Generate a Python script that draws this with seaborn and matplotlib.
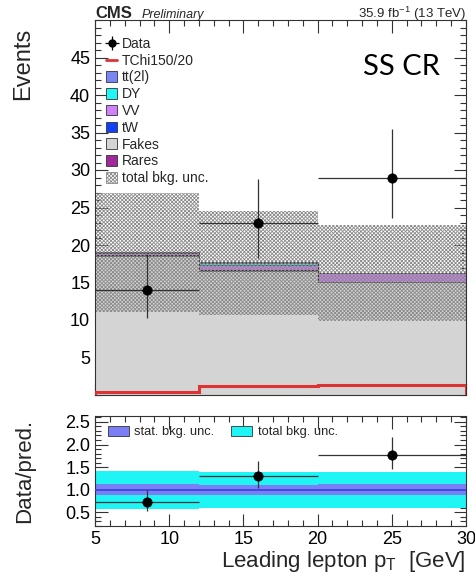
import numpy as np
import pandas as pd
import matplotlib
matplotlib.use("Agg")
import matplotlib.pyplot as plt
from matplotlib.patches import Patch
from matplotlib.lines import Line2D
from matplotlib.ticker import MultipleLocator, FormatStrFormatter
import seaborn as sns

# ---------------- data ----------------
bin_edges = [5, 12, 20, 30]
bin_centers_data = [8.5, 16, 25]
fakes = [18.6, 16.6, 15.1]
rares = [0.05, 0.03, 0.03]
tw = [0.0, 0.02, 0.0]
vv = [0.3, 0.7, 1.1]
dy = [0.05, 0.3, 0.05]
tt = [0.0, 0.05, 0.02]
signal = [0.4, 1.2, 1.3]
data_counts = [14, 23, 29]
data_err_up = [4.83, 5.86, 6.44]
data_err_dn = [3.7, 4.77, 5.37]
unc_total_lo = [11.05, 10.65, 9.85]
unc_total_hi = [26.9, 24.6, 22.7]
stat_rel = [0.12, 0.11, 0.12]

proc_names = ["Fakes", "Rares", "tW", "VV", "DY", "tt(2l)"]
proc_values = [fakes, rares, tw, vv, dy, tt]
proc_colors = {"tt(2l)": "#7b86f5", "DY": "#22f5f5", "VV": "#d080f8",
               "tW": "#1040f8", "Fakes": "#d4d4d4", "Rares": "#a0289c"}

# ---------------- style ----------------
sns.set_theme(style="ticks")
plt.rcParams['font.family'] = ['Liberation Sans', 'DejaVu Sans']
plt.rcParams['hatch.linewidth'] = 0.6
plt.rcParams['mathtext.fontset'] = 'custom'
plt.rcParams['mathtext.rm'] = 'Liberation Sans'
plt.rcParams['mathtext.it'] = 'Liberation Sans'

fig = plt.figure(figsize=(4.75, 5.74), dpi=100)
W, H = 475, 574
ax = fig.add_axes([95 / W, 1 - 395 / H, 371 / W, 375 / H])
rax = fig.add_axes([95 / W, 1 - 526 / H, 371 / W, 110 / H])

edges = np.array(bin_edges, dtype=float)
HATCH = "xxxxxxxxx"
HCOL = "#8a8a8a"

# stacked backgrounds
base = np.zeros(3)
for name, vals in zip(proc_names, proc_values):
    vals = np.array(vals)
    ax.stairs(base + vals, edges, baseline=base, fill=True,
              color=proc_colors[name], zorder=1)
    ax.stairs(base + vals, edges, color="#333333", lw=0.6, zorder=1.5)
    base = base + vals
total = base

# total bkg uncertainty hatch
ax.stairs(np.array(unc_total_hi), edges, baseline=np.array(unc_total_lo),
          fill=True, facecolor="none", edgecolor=HCOL, hatch=HATCH,
          lw=0, zorder=2)

# signal
ax.stairs(np.array(signal), edges, color="#dd3333", lw=2.2, zorder=3)

# data
xerr_lo = np.array(bin_centers_data) - edges[:-1]
xerr_hi = edges[1:] - np.array(bin_centers_data)
df = pd.DataFrame({"x": bin_centers_data, "y": data_counts})
ax.errorbar(df["x"], df["y"], yerr=[data_err_dn, data_err_up],
            xerr=[xerr_lo, xerr_hi], fmt="none", ecolor="#333333",
            elinewidth=0.9, zorder=4)
sns.scatterplot(data=df, x="x", y="y", ax=ax, color="black", s=45,
                edgecolor="black", zorder=5, legend=False)

ax.set_xlim(5, 30)
ax.set_ylim(0, 50)
ax.set_xlabel("")
ax.set_ylabel("Events", fontsize=17, loc="top")
ax.yaxis.set_label_coords(-0.164, 0.979)
ax.yaxis.set_major_locator(MultipleLocator(5))
ax.yaxis.set_minor_locator(MultipleLocator(1))
ax.xaxis.set_major_locator(MultipleLocator(5))
ax.xaxis.set_minor_locator(MultipleLocator(1))
ax.set_yticks([5, 10, 15, 20, 25, 30, 35, 40, 45])
ax.tick_params(axis="x", labelbottom=False)

for a in (ax, rax):
    a.tick_params(which="both", direction="in", top=True, right=True,
                  colors="#333333", labelcolor="black", width=0.8)
    a.tick_params(which="major", length=9, labelsize=13)
    a.tick_params(which="minor", length=4.5)
    for sp in a.spines.values():
        sp.set_visible(True)
        sp.set_linewidth(0.8)
        sp.set_color("#333333")

# legend
h_data = ax.errorbar([], [], yerr=[], xerr=[], fmt="o", color="black",
                     markersize=5, elinewidth=0.9)
handles = [h_data,
           Line2D([], [], color="#dd3333", lw=2)]
labels = ["Data", "TChi150/20"]
for name in ["tt(2l)", "DY", "VV", "tW", "Fakes", "Rares"]:
    handles.append(Patch(facecolor=proc_colors[name], edgecolor="#333333", lw=0.6))
    labels.append(name)
handles.append(Patch(facecolor="white", edgecolor=HCOL, hatch=HATCH, lw=0.6))
labels.append("total bkg. unc.")
ax.legend(handles, labels, loc="upper left", bbox_to_anchor=(0.03, 0.955),
          frameon=False, fontsize=10, handlelength=0.8, handleheight=0.8,
          handletextpad=0.35, labelspacing=0.2, borderaxespad=0, borderpad=0)

ax.text(0.93, 0.875, "SS CR", transform=ax.transAxes, ha="right", va="center",
        fontsize=21, family="Lato", color="black")

fig.text(95 / W, 1 - 14 / H, "CMS", fontsize=12, fontweight="bold", va="center")
fig.text(142 / W, 1 - 15 / H, "Preliminary", fontsize=9, style="italic", va="center")
fig.text(466 / W, 1 - 14 / H, r"35.9 fb$^{-1}$ (13 TeV)", fontsize=9.5,
         ha="right", va="center")

# ---------------- ratio ----------------
tot = np.array(total)
unc_rel_hi = np.array(unc_total_hi) / tot
unc_rel_lo = np.array(unc_total_lo) / tot
rax.stairs(unc_rel_hi, edges, baseline=unc_rel_lo, fill=True,
           color="#1ff5f5", zorder=1)
rax.stairs(1 + np.array(stat_rel), edges, baseline=1 - np.array(stat_rel),
           fill=True, color="#7b7ff5", zorder=2)
rax.axhline(1.0, color="#3340e0", lw=1.2, zorder=3)

ratio = np.array(data_counts) / tot
r_up = np.array(data_err_up) / tot
r_dn = np.array(data_err_dn) / tot
rdf = pd.DataFrame({"x": bin_centers_data, "y": ratio})
rax.errorbar(rdf["x"], rdf["y"], yerr=[r_dn, r_up], xerr=[xerr_lo, xerr_hi],
             fmt="none", ecolor="#333333", elinewidth=0.9, zorder=4)
sns.scatterplot(data=rdf, x="x", y="y", ax=rax, color="black", s=45,
                edgecolor="black", zorder=5, legend=False)

rax.set_xlim(5, 30)
rax.set_ylim(0.2, 2.63)
rax.yaxis.set_major_locator(MultipleLocator(0.5))
rax.yaxis.set_minor_locator(MultipleLocator(0.1))
rax.set_yticks([0.5, 1.0, 1.5, 2.0, 2.5])
rax.yaxis.set_major_formatter(FormatStrFormatter("%.1f"))
rax.xaxis.set_major_locator(MultipleLocator(5))
rax.xaxis.set_minor_locator(MultipleLocator(1))
rax.set_ylabel("Data/pred.", fontsize=16)
rax.yaxis.set_label_coords(-0.162, 0.5)
rax.set_xlabel(r"Leading lepton p$_{\rm T}$  [GeV]", fontsize=16, loc="right",
               labelpad=1)

rax.legend([Patch(facecolor="#7b7ff5", edgecolor="#333333", lw=0.6),
            Patch(facecolor="#1ff5f5", edgecolor="#333333", lw=0.6)],
           ["stat. bkg. unc.", "total bkg. unc."], loc="upper left",
           bbox_to_anchor=(0.035, 0.91), ncol=2, frameon=False, fontsize=9.3,
           handlelength=1.6, handleheight=0.8, handletextpad=0.45,
           columnspacing=1.3, borderaxespad=0, borderpad=0)

fig.savefig("out.png", dpi=100)
